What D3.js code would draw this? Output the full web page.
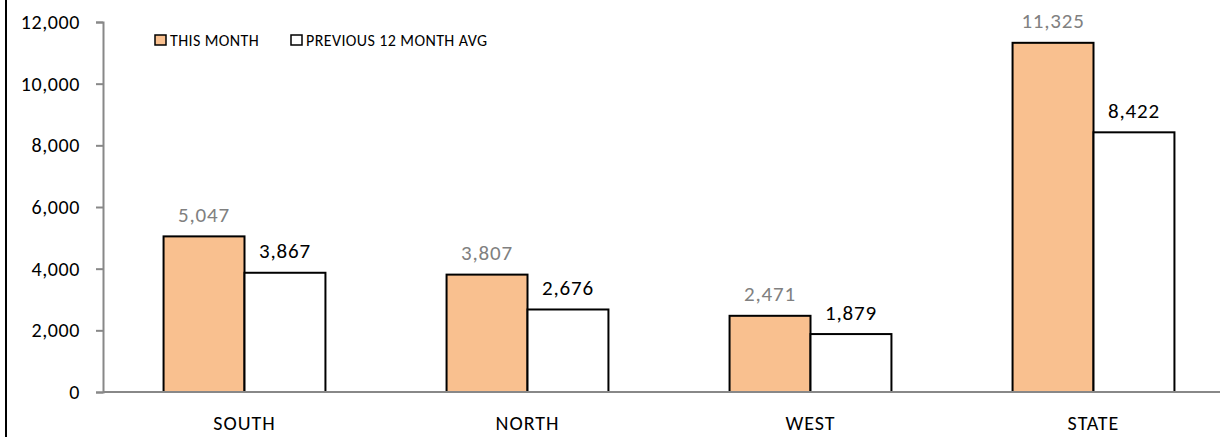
<!DOCTYPE html>
<html>
<head>
<meta charset="utf-8">
<script src="https://cdn.jsdelivr.net/npm/d3@7"></script>
<style>
  body { margin: 0; background: #fff; }
  svg { display: block; font-family: Carlito, Calibri, "Open Sans", sans-serif; }
</style>
</head>
<body>
<svg width="1220" height="441"></svg>
<script>
const categories = ['SOUTH', 'NORTH', 'WEST', 'STATE']
const seriesNames = ['THIS MONTH', 'PREVIOUS 12 MONTH AVG']
const thisMonth = [5047, 3807, 2471, 11325]
const prevAvg = [3867, 2676, 1879, 8422]
const yTicks = [0, 2000, 4000, 6000, 8000, 10000, 12000]

const svg = d3.select('svg')
const fills = ['#f9c08f', '#ffffff']
const labelColors = ['#808080', '#000000']

// frame line on the left edge
svg.append('line')
  .attr('x1', 6).attr('x2', 6).attr('y1', 0).attr('y2', 437)
  .attr('stroke', '#000').attr('stroke-width', 2)

const plotLeft = 103, plotBottom = 392, plotTop = 22
const y = d3.scaleLinear().domain([0, 12000]).range([plotBottom, plotTop])
const x0 = d3.scaleBand().domain(categories).range([plotLeft, 1235])
  .paddingInner(0.428).paddingOuter(0.214)
const x1 = d3.scaleBand().domain([0, 1]).range([0, x0.bandwidth()])

const rows = categories.map((c, i) => ({ cat: c, vals: [thisMonth[i], prevAvg[i]] }))

// y axis
const yAxis = svg.append('g')
  .attr('transform', `translate(${plotLeft},0)`)
  .call(d3.axisLeft(y).tickValues(yTicks).tickSize(7).tickPadding(16).tickFormat(d3.format(',')))
yAxis.select('.domain').attr('stroke', '#888').attr('stroke-width', 2)
yAxis.selectAll('.tick line').attr('stroke', '#888').attr('stroke-width', 2)
yAxis.selectAll('.tick text').attr('font-size', 20).attr('fill', '#000')
  .attr('letter-spacing', 0.6)
  .style('font-family', 'Carlito, Calibri, "Open Sans", sans-serif')

// bars
const groups = svg.append('g').selectAll('g')
  .data(rows).join('g')
  .attr('transform', d => `translate(${x0(d.cat)},0)`)

groups.selectAll('rect')
  .data(d => d.vals.map((v, k) => ({ v, k })))
  .join('rect')
  .attr('x', d => x1(d.k))
  .attr('y', d => y(d.v))
  .attr('width', x1.bandwidth())
  .attr('height', d => plotBottom - y(d.v))
  .attr('fill', d => fills[d.k])
  .attr('stroke', '#000').attr('stroke-width', 2)

groups.selectAll('text')
  .data(d => d.vals.map((v, k) => ({ v, k })))
  .join('text')
  .attr('x', d => x1(d.k) + x1.bandwidth() / 2)
  .attr('y', d => y(d.v) - 14.5)
  .attr('text-anchor', 'middle')
  .attr('font-size', 21)
  .attr('letter-spacing', 0.8)
  .attr('fill', d => labelColors[d.k])
  .text(d => d3.format(',')(d.v))

// x axis line
svg.append('line')
  .attr('x1', plotLeft).attr('x2', 1220).attr('y1', plotBottom).attr('y2', plotBottom)
  .attr('stroke', '#888').attr('stroke-width', 2)

svg.append('g').selectAll('text')
  .data(categories).join('text')
  .attr('x', d => x0(d) + x0.bandwidth() / 2)
  .attr('y', 430)
  .attr('text-anchor', 'middle')
  .attr('font-size', 20)
  .attr('letter-spacing', 1)
  .text(d => d)

// legend
const legendX = [155, 291]
const legend = svg.append('g').selectAll('g')
  .data(seriesNames).join('g')
  .attr('transform', (d, i) => `translate(${legendX[i]},35)`)
legend.append('rect')
  .attr('width', 11).attr('height', 10)
  .attr('fill', (d, i) => fills[i])
  .attr('stroke', '#000').attr('stroke-width', 1.5)
legend.append('text')
  .attr('x', 15).attr('y', 11)
  .attr('font-size', 16)
  .attr('letter-spacing', 0.4)
  .text(d => d)
</script>
</body>
</html>
